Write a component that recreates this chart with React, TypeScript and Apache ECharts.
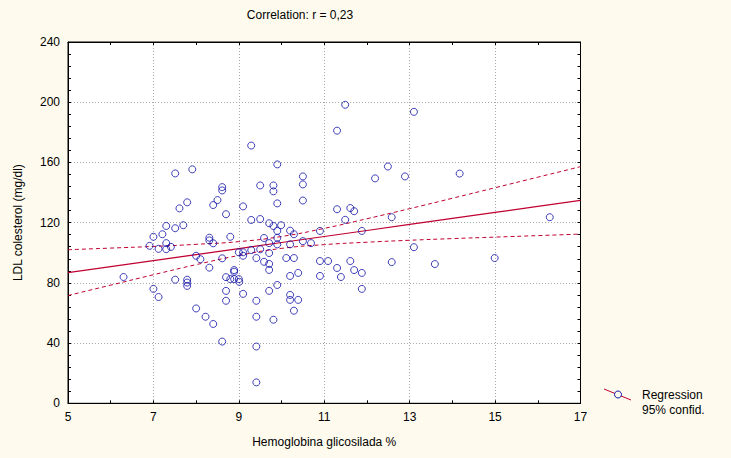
import React, { useEffect, useRef } from "react";
import * as echarts from "echarts";

// Hemoglobina glicosilada % (x) and LDL colesterol mg/dl (y)
const hba1c = [
  6.30, 6.91, 7.00, 7.00, 7.12, 7.12, 7.21, 7.30, 7.30, 7.30,
  7.41, 7.51, 7.51, 7.51, 7.61, 7.70, 7.79, 7.79, 7.79, 7.79,
  7.91, 8.00, 8.00, 8.10, 8.22, 8.31, 8.31, 8.31, 8.40, 8.40,
  8.40, 8.50, 8.61, 8.61, 8.61, 8.61, 8.70, 8.70, 8.70, 8.70,
  8.80, 8.80, 8.89, 8.89, 8.89, 9.00, 9.01, 9.00, 9.10, 9.10,
  9.10, 9.10, 9.29, 9.29, 9.29, 9.41, 9.41, 9.41, 9.41, 9.41,
  9.50, 9.50, 9.50, 9.59, 9.59, 9.71, 9.71, 9.71, 9.71, 9.71,
  9.71, 9.81, 9.81, 9.81, 9.81, 9.90, 9.90, 9.90, 9.90, 9.90,
  9.90, 9.99, 10.11, 10.20, 10.20, 10.20, 10.20, 10.20, 10.29, 10.29,
  10.29, 10.39, 10.39, 10.50, 10.50, 10.50, 10.50, 10.69, 10.90, 10.90,
  10.90, 11.09, 11.30, 11.30, 11.30, 11.39, 11.49, 11.49, 11.61, 11.61,
  11.70, 11.70, 11.88, 11.88, 11.88, 12.19, 12.49, 12.58, 12.58, 12.89,
  13.10, 13.10, 13.59, 14.17, 14.99, 16.28,
];
const ldl = [
  83.9, 104.6, 110.6, 76.0, 102.6, 70.6, 112.3, 117.8, 106.4, 102.4,
  103.9, 116.3, 82.1, 152.7, 129.5, 118.3, 133.5, 82.1, 80.2, 78.0,
  155.4, 98.0, 63.0, 95.7, 57.5, 110.0, 108.2, 90.1, 131.7, 106.3,
  52.7, 135.0, 143.6, 141.4, 96.3, 41.0, 125.6, 83.8, 74.7, 68.1,
  110.6, 82.5, 88.5, 87.4, 82.5, 82.5, 80.7, 100.3, 130.8, 100.3,
  98.0, 72.7, 171.2, 121.8, 101.8, 96.5, 68.1, 57.5, 37.7, 13.9,
  144.7, 122.4, 102.3, 109.8, 94.0, 119.6, 106.4, 99.8, 92.6, 88.6,
  74.7, 144.7, 140.8, 117.8, 55.5, 158.7, 132.8, 114.5, 109.9, 105.6,
  78.6, 118.3, 96.5, 114.7, 105.6, 84.6, 72.0, 68.7, 112.3, 96.5,
  61.5, 86.6, 68.7, 150.7, 145.4, 134.7, 107.7, 106.4, 114.5, 94.5,
  84.6, 94.5, 181.1, 128.9, 89.9, 83.9, 198.3, 121.9, 129.7, 94.5,
  127.6, 88.5, 114.5, 86.6, 76.0, 149.4, 157.3, 123.6, 93.8, 150.7,
  193.6, 103.7, 92.5, 152.6, 96.5, 123.6,
];

// Regression line and 95% confidence band, read at each x
const bandX = [5, 6, 7, 8, 9, 10, 11, 12, 13, 14, 15, 16, 17];
const fitY = [86.8, 90.8, 94.8, 98.8, 102.8, 106.8, 110.8, 114.8, 118.8, 122.8, 126.8, 130.8, 134.8];
const upperY = [102.0, 103.1, 104.2, 105.6, 107.4, 110.8, 116.2, 122.6, 129.3, 136.2, 143.2, 150.2, 157.2];
const lowerY = [71.6, 78.5, 85.4, 92.1, 98.2, 102.9, 105.4, 107.0, 108.3, 109.4, 110.4, 111.4, 112.4];

const titleText = "Correlation: r = 0,23";
const xName = "Hemoglobina glicosilada %";
const yName = "LDL colesterol (mg/dl)";
const legendLabels = ["Regression", "95% confid."];

const FONT = 'Arial, "Liberation Sans", sans-serif';
const RED = "#c00030";
const BLUE = "#1010a8";

export default function App() {
  const ref = useRef<HTMLDivElement>(null);

  useEffect(() => {
    document.body.style.margin = "0";
    const chart = echarts.init(ref.current!, null, { renderer: "svg" });
    const points = hba1c.map((x, i) => [x, ldl[i]]);
    const pair = (ys: number[]) => bandX.map((x, i) => [x, ys[i]]);

    const tickCommon = {
      axisLine: { show: true, onZero: false, lineStyle: { color: "#000", width: 1 } },
      axisTick: { show: true, inside: true, length: 3, lineStyle: { color: "#000" } },
    };

    chart.setOption({
      animation: false,
      backgroundColor: "#fefbee",
      textStyle: { fontFamily: FONT, color: "#000" },
      grid: {
        left: 68,
        right: 150.5,
        top: 42,
        bottom: 54.7,
        show: true,
        backgroundColor: "#ffffff",
        borderColor: "#000",
        borderWidth: 1,
      },
      xAxis: [
        {
          type: "value",
          min: 5,
          max: 17,
          interval: 2,
          ...tickCommon,
          minorTick: { show: true, splitNumber: 2, length: 3, lineStyle: { color: "#000" } },
          splitLine: { show: true, lineStyle: { color: "#a8a8a8", type: [1, 2], width: 1 } },
          axisLabel: { color: "#000", fontSize: 12, margin: 8, fontFamily: FONT },
          name: xName,
          nameLocation: "middle",
          nameGap: 33,
          nameTextStyle: { color: "#000", fontSize: 12, fontFamily: FONT },
        },
        {
          type: "value",
          position: "top",
          min: 5,
          max: 17,
          interval: 2,
          ...tickCommon,
          minorTick: { show: true, splitNumber: 2, length: 3, lineStyle: { color: "#000" } },
          splitLine: { show: false },
          axisLabel: { show: false },
        },
      ],
      yAxis: [
        {
          type: "value",
          min: 0,
          max: 240,
          interval: 40,
          ...tickCommon,
          minorTick: { show: true, splitNumber: 5, length: 3, lineStyle: { color: "#000" } },
          splitLine: { show: true, lineStyle: { color: "#a8a8a8", type: [1, 2], width: 1 } },
          axisLabel: { color: "#000", fontSize: 12, margin: 8, fontFamily: FONT },
          name: yName,
          nameLocation: "middle",
          nameGap: 44,
          nameRotate: 90,
          nameTextStyle: { color: "#000", fontSize: 12, fontFamily: FONT },
        },
        {
          type: "value",
          position: "right",
          min: 0,
          max: 240,
          interval: 40,
          ...tickCommon,
          minorTick: { show: true, splitNumber: 5, length: 3, lineStyle: { color: "#000" } },
          splitLine: { show: false },
          axisLabel: { show: false },
        },
      ],
      series: [
        {
          type: "line",
          data: pair(fitY),
          showSymbol: false,
          smooth: false,
          lineStyle: { color: RED, width: 1.2 },
          z: 3,
        },
        {
          type: "line",
          data: pair(upperY),
          showSymbol: false,
          smooth: true,
          lineStyle: { color: RED, width: 1, type: [4, 3] },
          z: 3,
        },
        {
          type: "line",
          data: pair(lowerY),
          showSymbol: false,
          smooth: true,
          lineStyle: { color: RED, width: 1, type: [4, 3] },
          z: 3,
        },
        {
          type: "scatter",
          data: points,
          symbol: "circle",
          symbolSize: 7,
          itemStyle: { color: "rgba(0,0,0,0)", borderColor: BLUE, borderWidth: 1 },
          emphasis: { disabled: true },
          z: 4,
        },
      ],
      graphic: [
        {
          type: "text",
          x: 300,
          y: 15,
          style: {
            text: titleText,
            fontSize: 12,
            fontFamily: FONT,
            fill: "#000",
            textAlign: "center",
            textVerticalAlign: "middle",
          },
        },
        {
          type: "line",
          shape: { x1: 604, y1: 389, x2: 631, y2: 400 },
          style: { stroke: RED, lineWidth: 1 },
        },
        {
          type: "circle",
          shape: { cx: 618, cy: 394.5, r: 3.5 },
          style: { stroke: BLUE, fill: "#fefbee", lineWidth: 1 },
        },
        {
          type: "text",
          x: 642,
          y: 395,
          style: {
            text: legendLabels[0],
            fontSize: 12,
            fontFamily: FONT,
            fill: "#000",
            textVerticalAlign: "middle",
          },
        },
        {
          type: "text",
          x: 642,
          y: 410,
          style: {
            text: legendLabels[1],
            fontSize: 12,
            fontFamily: FONT,
            fill: "#000",
            textVerticalAlign: "middle",
          },
        },
      ],
    });
    return () => chart.dispose();
  }, []);

  return (
    <div
      ref={ref}
      style={{ position: "fixed", left: 0, top: 0, width: 731, height: 458 }}
    />
  );
}
